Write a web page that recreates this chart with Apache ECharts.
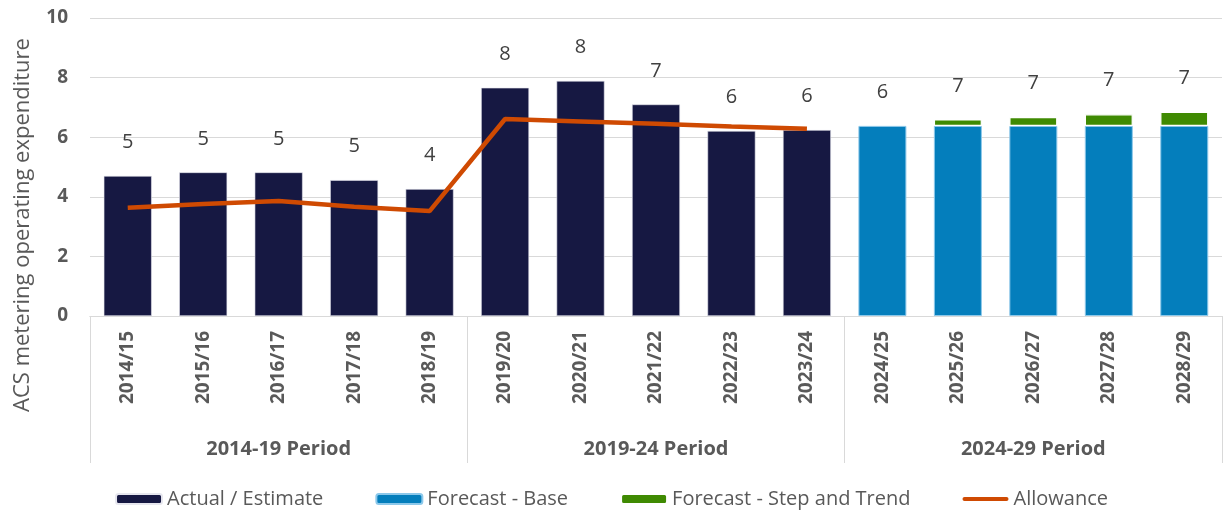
<!DOCTYPE html>
<html>
<head>
<meta charset="utf-8">
<script src="https://cdn.jsdelivr.net/npm/echarts@6/dist/echarts.min.js"></script>
<style>html,body{margin:0;padding:0;background:#fff}#c{width:1223px;height:511px}</style>
</head>
<body>
<div id="c"></div>
<script>
var years = ['2014/15','2015/16','2016/17','2017/18','2018/19','2019/20','2020/21','2021/22','2022/23','2023/24','2024/25','2025/26','2026/27','2027/28','2028/29'];
var periods = ['2014-19 Period','2019-24 Period','2024-29 Period'];
var actual = [4.70,4.82,4.82,4.56,4.26,7.66,7.89,7.10,6.21,6.24,'-','-','-','-','-'];
var forecastBase = ['-','-','-','-','-','-','-','-','-','-',6.38,6.38,6.38,6.38,6.38];
var stepTrend = ['-','-','-','-','-','-','-','-','-','-','-',0.22,0.30,0.39,0.47];
var allowance = [3.63,3.76,3.86,3.67,3.52,6.61,6.53,6.45,6.36,6.28,'-','-','-','-','-'];
var yTicks = {min:0, max:10, interval:2};

function num(v){ return v === '-' ? 0 : v; }
var totals = years.map(function(_, i){ return +(num(actual[i]) + num(forecastBase[i]) + num(stepTrend[i])).toFixed(2); });

var FONT = 'Open Sans';
var chart = echarts.init(document.getElementById('c'));
chart.setOption({
  animation: false,
  textStyle: {fontFamily: FONT},
  grid: {left: 90, right: 1, top: 18, bottom: 195, containLabel: false},
  legend: {
    data: ['Actual / Estimate','Forecast - Base','Forecast - Step and Trend',
      {name: 'Allowance', icon: 'path://M2,0 L44,0 A2,2 0 0 1 44,4 L2,4 A2,2 0 0 1 2,0 Z'}],
    top: 484, left: 'center',
    itemWidth: 46, itemHeight: 10, itemGap: 52,
    textStyle: {fontFamily: FONT, fontSize: 20, color: '#595959'}
  },
  graphic: [{
    type: 'text', x: 23, y: 225, rotation: Math.PI / 2,
    style: {text: 'ACS metering operating expenditure', fontFamily: FONT, fontSize: 22, fill: '#595959', textAlign: 'center', textVerticalAlign: 'middle'}
  }],
  xAxis: [{
    type: 'category', data: years, position: 'bottom',
    axisLine: {show: true, lineStyle: {color: '#d9d9d9', width: 1}},
    axisTick: {show: false},
    axisLabel: {rotate: 90, margin: 15, interval: 0, fontFamily: FONT, fontSize: 19, fontWeight: 'bold', color: '#595959'}
  }, {
    type: 'category', data: periods, position: 'bottom',
    axisLine: {show: true, lineStyle: {color: '#d9d9d9', width: 1}},
    axisTick: {show: true, interval: 0, length: 147, lineStyle: {color: '#d9d9d9', width: 1}},
    axisLabel: {margin: 123, interval: 0, fontFamily: FONT, fontSize: 20, fontWeight: 'bold', color: '#595959'}
  }],
  yAxis: {
    type: 'value', min: yTicks.min, max: yTicks.max, interval: yTicks.interval,
    axisLine: {show: false}, axisTick: {show: false},
    splitLine: {lineStyle: {color: '#d9d9d9', width: 1}},
    axisLabel: {margin: 22, fontFamily: FONT, fontSize: 19, fontWeight: 'bold', color: '#595959'}
  },
  series: [{
    name: 'Actual / Estimate', type: 'bar', stack: 'a', barWidth: 48, data: actual,
    itemStyle: {color: '#161842', borderColor: '#e6e6ee', borderWidth: 0.6}
  }, {
    name: 'Forecast - Base', type: 'bar', stack: 'a', barWidth: 48, data: forecastBase,
    itemStyle: {color: '#047EBC', borderColor: '#8cc8ea', borderWidth: 1}
  }, {
    name: 'Forecast - Step and Trend', type: 'bar', stack: 'a', barWidth: 48, data: stepTrend,
    itemStyle: {color: '#3F8A02', borderColor: '#ffffff', borderWidth: 1.2}
  }, {
    name: 'Allowance', type: 'line', data: allowance, symbol: 'none', z: 5,
    lineStyle: {color: '#CF4A02', width: 4.5}, itemStyle: {color: '#CF4A02'}
  }, {
    name: 'Total', type: 'line', data: totals, symbol: 'circle', symbolSize: 1, z: 6,
    lineStyle: {opacity: 0, width: 0}, itemStyle: {color: 'rgba(0,0,0,0)'}, silent: true,
    label: {show: true, position: 'top', distance: 23, fontFamily: FONT, fontSize: 20, color: '#404040',
      formatter: function(p){ return Math.round(p.value); }}
  }]
});
</script>
</body>
</html>
